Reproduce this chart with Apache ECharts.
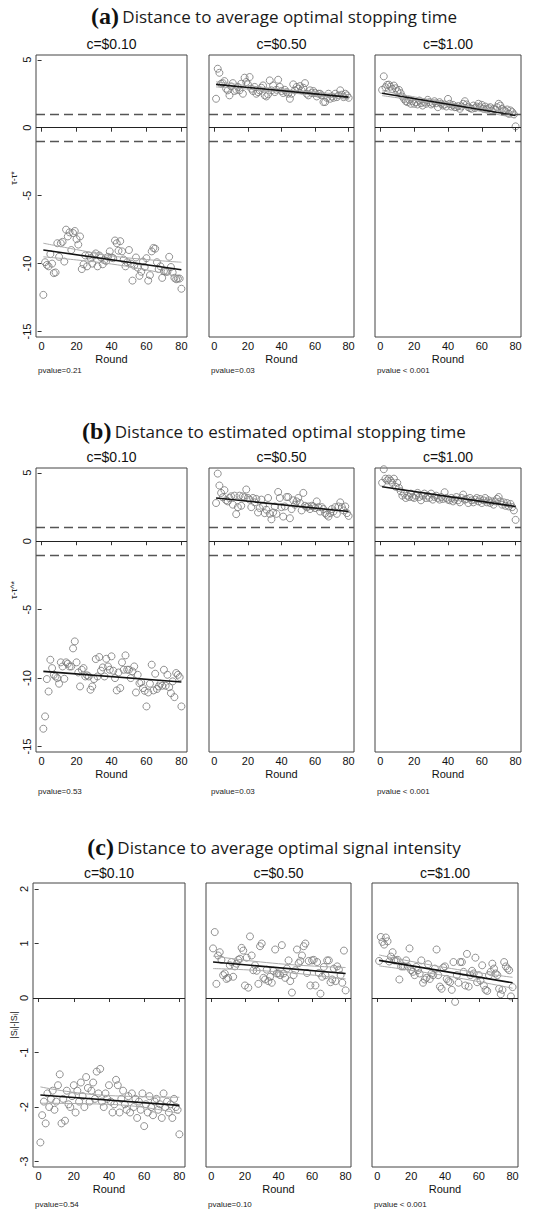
<!DOCTYPE html>
<html>
<head>
<meta charset="utf-8">
<script src="https://cdn.jsdelivr.net/npm/echarts@6/dist/echarts.min.js"></script>
<style>
html, body { margin: 0; padding: 0; background: #fff; }
#chart { width: 536px; height: 1210px; }
</style>
</head>
<body>
<div id="chart"></div>
<script>
const rounds = [1,2,3,4,5,6,7,8,9,10,11,12,13,14,15,16,17,18,19,20,21,22,23,24,25,26,27,28,29,30,31,32,33,34,35,36,37,38,39,40,
  41,42,43,44,45,46,47,48,49,50,51,52,53,54,55,56,57,58,59,60,61,62,63,64,65,66,67,68,69,70,71,72,73,74,75,76,77,78,79,80];
const xTicks = [0, 20, 40, 60, 80];
const yTicksTime = [-15, -10, -5, 0, 5];
const yTicksSignal = [-3, -2, -1, 0, 1, 2];
const costLabels = ['c=$0.10', 'c=$0.50', 'c=$1.00'];
const sectionTags = ['(a)', '(b)', '(c)'];
const sectionTitles = [
  'Distance to average optimal stopping time',
  'Distance to estimated optimal stopping time',
  'Distance to average optimal signal intensity'
];
const yLabels = ['τ-τ*', 'τ-τ^*', '|Sᵢ|-|Sᵢ|'];
const pvalues = [
  ['pvalue=0.21', 'pvalue=0.03', 'pvalue < 0.001'],
  ['pvalue=0.53', 'pvalue=0.03', 'pvalue < 0.001'],
  ['pvalue=0.54', 'pvalue=0.10', 'pvalue < 0.001']
];
const bandLines = [[-1, 1], [-1, 1], []];

// (a) distance to average optimal stopping time
const avgTime010 = [-12.3,-9.9,-10.1,-10.2,-9.3,-10.0,-10.7,-10.65,-8.5,-9.5,
  -8.5,-8.4,-9.85,-7.5,-8.0,-7.7,-9.0,-7.75,-7.6,-8.2,
  -8.6,-8.0,-10.4,-10.05,-9.4,-10.2,-9.4,-9.6,-10.0,-9.4,
  -9.25,-10.2,-9.4,-9.55,-10.05,-9.75,-9.8,-9.5,-9.1,-9.55,
  -9.6,-8.3,-8.5,-9.05,-8.35,-9.1,-9.7,-10.2,-9.9,-9.0,
  -10.0,-11.25,-10.15,-9.55,-10.3,-10.9,-10.6,-9.85,-10.25,-9.6,
  -11.25,-10.85,-9.1,-8.85,-8.9,-9.9,-10.4,-10.2,-11.05,-10.55,
  -10.6,-10.6,-9.5,-10.25,-10.65,-11.05,-11.15,-11.1,-11.1,-11.85];
const avgTime050 = [2.13,4.34,4.04,3.24,3.28,3.43,2.87,2.75,2.38,3.04,
  3.28,2.70,2.79,3.0,2.75,3.24,2.5,3.68,3.36,3.19,
  3.73,2.87,2.70,3.0,2.5,2.62,2.75,2.94,3.11,2.38,
  2.30,2.45,3.48,2.75,3.11,2.62,2.79,3.53,3.0,2.70,
  2.55,2.79,2.62,2.5,2.13,2.5,3.19,2.75,3.0,2.87,
  3.06,2.75,2.94,3.28,2.5,2.38,2.75,2.55,2.70,2.55,
  2.30,2.5,2.5,2.38,1.89,1.89,2.2,2.5,2.13,2.3,
  2.2,2.5,2.25,2.38,2.75,2.43,2.25,2.5,2.38,2.2];
const avgTime100 = [2.78,3.78,2.98,3.15,3.17,3.02,2.85,3.1,2.9,2.68,
  2.78,2.54,2.29,2.12,1.95,1.88,2.05,1.76,1.95,1.76,
  1.88,1.71,2.0,1.8,1.63,1.88,1.76,2.05,1.88,1.71,
  1.8,1.95,1.8,1.51,1.88,1.76,1.63,1.71,1.56,2.12,
  1.76,1.56,1.68,1.51,1.51,1.59,1.39,1.56,1.76,1.95,
  1.71,1.51,1.44,1.39,1.63,1.44,1.56,1.76,1.51,1.68,
  1.39,1.56,1.34,1.44,1.51,1.27,1.39,1.32,1.51,1.76,
  1.63,1.39,1.27,1.22,1.34,1.02,1.27,1.15,0.98,0.1];
const fitAvgTime = [[[1, -9.0], [80, -10.45]], [[1, 3.19], [80, 2.25]], [[1, 2.54], [80, 0.9]]];
const ciHiAvgTime = [
  [[1, -8.5], [20, -8.97], [40, -9.43], [60, -9.7], [80, -9.9]],
  [[1, 3.38], [40, 2.83], [80, 2.43]],
  [[1, 2.72], [40, 1.83], [80, 1.08]]
];
const ciLoAvgTime = [
  [[1, -9.5], [20, -9.73], [40, -10.03], [60, -10.46], [80, -11.0]],
  [[1, 3.0], [40, 2.63], [80, 2.07]],
  [[1, 2.36], [40, 1.63], [80, 0.72]]
];

// (b) distance to estimated optimal stopping time
const estTime010 = [-13.7,-12.8,-10.07,-10.98,-8.66,-9.27,-9.76,-9.88,-10,-10.41,
  -8.85,-9.15,-10.05,-8.85,-8.95,-9.15,-9.15,-7.83,-7.32,-8.85,
  -9.59,-10.61,-9.39,-9.27,-9.88,-9.8,-9.88,-10.85,-10.61,-10.07,
  -8.61,-9.88,-8.46,-9.46,-9.22,-9.88,-8.59,-9.15,-9.39,-8.41,
  -9.46,-10,-10.9,-9.59,-10.73,-8.85,-9.39,-8.34,-9.39,-9.39,
  -10,-9.51,-9.15,-11.05,-9.76,-10.37,-10.3,-10.73,-10.93,-12.07,
  -11.05,-10.41,-9.02,-10.9,-9.68,-10.8,-10.61,-10.41,-10.56,-9.39,
  -10.56,-9.76,-10.66,-11.1,-10.24,-11.39,-9.63,-9.76,-9.93,-12.07];
const estTime050 = [2.79,4.94,4.07,3.53,3.21,3.73,2.99,2.91,3.16,3.28,
  2.67,3.33,1.98,2.49,3.33,2.59,3.28,3.21,3.78,3.16,
  3.04,2.49,3.16,2.84,3.09,2.1,2.42,3.04,2.59,2.05,
  2.3,3.16,2.0,1.6,2.1,2.54,2.0,3.6,3.16,2.49,
  1.8,2.54,3.23,3.23,1.68,2.35,2.99,2.67,2.91,3.16,
  2.79,2.25,3.53,2.59,2.49,2.54,2.35,2.59,2.54,2.42,
  2.91,2.49,2.17,2.49,2.35,2.05,1.93,1.8,2.05,2.35,
  2.17,2.49,2.0,2.54,2.84,2.49,2.25,2.54,2.05,1.85];
const estTime100 = [4.27,5.26,4.57,4.44,4.57,4.44,4.27,4.57,3.98,4.27,
  3.9,3.65,3.33,3.48,3.16,3.33,3.23,3.48,3.23,3.16,
  3.33,3.53,3.23,2.99,3.33,3.48,3.16,3.33,3.16,3.48,
  3.04,3.23,3.33,3.16,3.04,3.23,3.09,3.58,3.16,3.04,
  2.99,3.16,2.91,3.04,3.23,2.99,2.84,3.16,3.41,3.04,
  3.09,2.79,3.16,2.99,2.84,3.04,3.16,2.91,3.09,2.79,
  2.99,3.16,2.84,2.99,2.79,2.91,2.67,2.91,3.09,3.23,
  2.91,2.67,2.84,2.59,2.79,2.54,2.72,2.49,2.25,1.56];
const fitEstTime = [[[1, -9.51], [80, -10.29]], [[1, 3.16], [80, 2.17]], [[1, 3.98], [80, 2.54]]];

// (c) distance to average optimal signal intensity
const signal010 = [-2.65,-2.15,-1.9,-2.3,-1.75,-2.0,-1.85,-1.7,-2.05,-1.9,
  -1.6,-1.4,-2.3,-1.85,-2.25,-1.7,-1.95,-2.0,-1.8,-1.6,
  -2.1,-1.7,-1.9,-1.55,-1.8,-2.0,-1.45,-1.65,-1.9,-1.7,
  -1.55,-1.85,-1.35,-1.75,-1.3,-1.9,-2.0,-1.75,-1.85,-1.6,
  -1.9,-2.1,-1.95,-1.5,-1.6,-2.1,-1.85,-1.7,-1.95,-2.05,
  -1.8,-2.1,-1.75,-2.0,-1.85,-2.2,-1.9,-2.05,-1.75,-2.35,
  -1.95,-2.1,-1.8,-2.0,-2.15,-1.9,-1.85,-2.05,-1.95,-2.2,
  -1.75,-2.0,-1.9,-2.1,-1.95,-2.2,-1.85,-2.0,-2.05,-2.5];
const signal050 = [0.91,1.21,0.26,0.78,0.84,0.70,0.42,0.45,0.35,0.37,
  0.6,0.66,0.39,0.58,0.63,0.70,0.72,0.92,0.87,0.23,
  0.74,0.19,1.13,0.78,0.51,0.6,0.5,0.26,0.95,1.0,
  0.37,0.34,0.52,0.31,0.39,0.28,0.5,0.89,0.45,0.45,
  0.42,0.97,0.45,0.37,0.54,0.69,0.31,0.10,0.42,0.51,
  0.89,0.64,0.68,0.78,0.95,1.0,0.46,0.68,0.23,0.69,
  0.70,0.23,0.66,0.46,0.08,0.39,0.57,0.42,0.69,0.69,
  0.29,0.34,0.54,0.31,0.58,0.52,0.42,0.28,0.87,0.14];
const signal100 = [0.68,1.12,1.03,0.98,1.11,1.04,0.67,0.76,0.84,0.69,
  0.69,0.70,0.34,0.58,0.58,0.58,0.69,0.58,0.91,0.51,
  0.48,0.42,0.57,0.51,0.45,0.69,0.28,0.34,0.37,0.62,
  0.35,0.45,0.42,0.54,0.89,0.42,0.21,0.17,0.56,0.58,
  0.35,0.31,0.29,0.15,0.66,-0.07,0.42,0.28,0.66,0.66,
  0.48,0.23,0.81,0.21,0.42,0.5,0.45,0.74,0.29,0.42,
  0.32,0.6,0.23,0.15,0.13,0.42,0.48,0.63,0.54,0.45,
  0.42,0.17,0.07,0.15,0.66,0.58,0.54,0.51,0.03,0.2];
const fitSignal = [[[1, -1.78], [80, -1.97]], [[1, 0.66], [80, 0.45]], [[1, 0.69], [80, 0.28]]];
const ciHiSignal = [
  [[1, -1.63], [40, -1.79], [80, -1.82]],
  [[1, 0.77], [40, 0.63], [80, 0.56]],
  [[1, 0.79], [40, 0.56], [80, 0.38]]
];
const ciLoSignal = [
  [[1, -1.93], [40, -1.95], [80, -2.12]],
  [[1, 0.54], [40, 0.48], [80, 0.35]],
  [[1, 0.59], [40, 0.41], [80, 0.18]]
];

const sectionData = [
  { pts: [avgTime010, avgTime050, avgTime100], fit: fitAvgTime, hi: ciHiAvgTime, lo: ciLoAvgTime },
  { pts: [estTime010, estTime050, estTime100], fit: fitEstTime, hi: null, lo: null },
  { pts: [signal010, signal050, signal100], fit: fitSignal, hi: ciHiSignal, lo: ciLoSignal }
];

// layout of the three stacked sections
const layout = [
  { top: 55, height: 282, lefts: [36, 209, 375], widths: [151, 145, 146], yMin: -15.4, yMax: 5.35, yTicks: yTicksTime, titleY: 16, subY: 44, pY: 370, labY: 178 },
  { top: 468, height: 284, lefts: [36, 209, 375], widths: [151, 145, 146], yMin: -15.4, yMax: 5.35, yTicks: yTicksTime, titleY: 431, subY: 457, pY: 791, labY: 590 },
  { top: 883, height: 284, lefts: [33, 206, 372], widths: [152, 145, 146], yMin: -3.1, yMax: 2.11, yTicks: yTicksSignal, titleY: 847, subY: 873, pY: 1204, labY: 1025 }
];

const font = '"Liberation Sans", Arial, sans-serif';
const grid = [], xAxis = [], yAxis = [], series = [], graphic = [];

layout.forEach((L, s) => {
  graphic.push({
    type: 'text', x: 274, y: L.titleY,
    style: {
      text: '{p|' + sectionTags[s] + '} {t|' + sectionTitles[s] + '}',
      align: 'center', verticalAlign: 'middle',
      rich: {
        p: { fontFamily: '"Liberation Serif", serif', fontWeight: 'bold', fontSize: 24, fill: '#111' },
        t: { fontFamily: '"Open Sans", Lato, sans-serif', fontWeight: 'normal', fontSize: 17, fill: '#1a1a1a' }
      }
    }
  });
  // y-axis title, drawn beside the first panel
  graphic.push({
    type: 'text', x: 14, y: L.labY, rotation: Math.PI / 2,
    style: { text: yLabels[s], align: 'center', verticalAlign: 'middle', fontSize: 9, fontFamily: font, fill: '#222' }
  });

  for (let c = 0; c < 3; c++) {
    const i = grid.length;
    const left = L.lefts[c], w = L.widths[c];
    grid.push({ left: left, top: L.top, width: w, height: L.height, show: true,
      borderColor: '#444', borderWidth: 1, backgroundColor: 'transparent', outerBoundsMode: 'none' });

    xAxis.push({
      gridIndex: i, type: 'value', min: -3.2, max: 83.2,
      axisLine: { show: false }, splitLine: { show: false },
      axisTick: { show: true, customValues: xTicks, length: 4, lineStyle: { color: '#333' } },
      axisLabel: { customValues: xTicks, fontSize: 11, color: '#111', margin: 3, fontFamily: font },
      name: 'Round', nameLocation: 'middle', nameGap: 16, nameMoveOverlap: false,
      nameTextStyle: { fontSize: 11, color: '#111', fontFamily: font }
    });

    const first = c === 0;
    yAxis.push({
      gridIndex: i, type: 'value', min: L.yMin, max: L.yMax,
      axisLine: { show: false }, splitLine: { show: false },
      axisTick: { show: first, customValues: L.yTicks, length: 4, lineStyle: { color: '#333' } },
      axisLabel: { show: first, customValues: L.yTicks, rotate: 90, fontSize: 11, color: '#111', margin: 4, fontFamily: font, hideOverlap: false }
    });

    const refs = [{ yAxis: 0, lineStyle: { color: '#222', width: 1.1, type: 'solid' } }];
    bandLines[s].forEach(v => refs.push({ yAxis: v, lineStyle: { color: '#555', width: 1.4, type: [9, 5] } }));

    const D = sectionData[s];
    series.push({
      type: 'scatter', xAxisIndex: i, yAxisIndex: i,
      data: rounds.map((r, k) => [r, D.pts[c][k]]),
      symbol: 'circle', symbolSize: 7,
      itemStyle: { color: 'rgba(0,0,0,0)', borderColor: '#777', borderWidth: 1 },
      markLine: { silent: true, symbol: ['none', 'none'], label: { show: false }, data: refs }
    });
    if (D.hi) {
      [D.hi[c], D.lo[c]].forEach(line => {
        series.push({ type: 'line', xAxisIndex: i, yAxisIndex: i, data: line, smooth: true,
          showSymbol: false, lineStyle: { color: '#aaa', width: 1 } });
      });
    }
    series.push({ type: 'line', xAxisIndex: i, yAxisIndex: i, data: D.fit[c],
      showSymbol: false, lineStyle: { color: '#111', width: 1.6 } });

    graphic.push({ type: 'text', x: left + w / 2, y: L.subY,
      style: { text: costLabels[c], align: 'center', verticalAlign: 'middle', fontSize: 14, fontFamily: font, fill: '#111' } });
    graphic.push({ type: 'text', x: left + 2, y: L.pY,
      style: { text: pvalues[s][c], align: 'left', verticalAlign: 'middle', fontSize: 8, fontFamily: font, fill: '#222' } });
  }
});

const chart = echarts.init(document.getElementById('chart'), null, { renderer: 'svg' });
chart.setOption({
  animation: false,
  backgroundColor: '#fff',
  grid: grid, xAxis: xAxis, yAxis: yAxis, series: series, graphic: graphic
});
</script>
</body>
</html>
